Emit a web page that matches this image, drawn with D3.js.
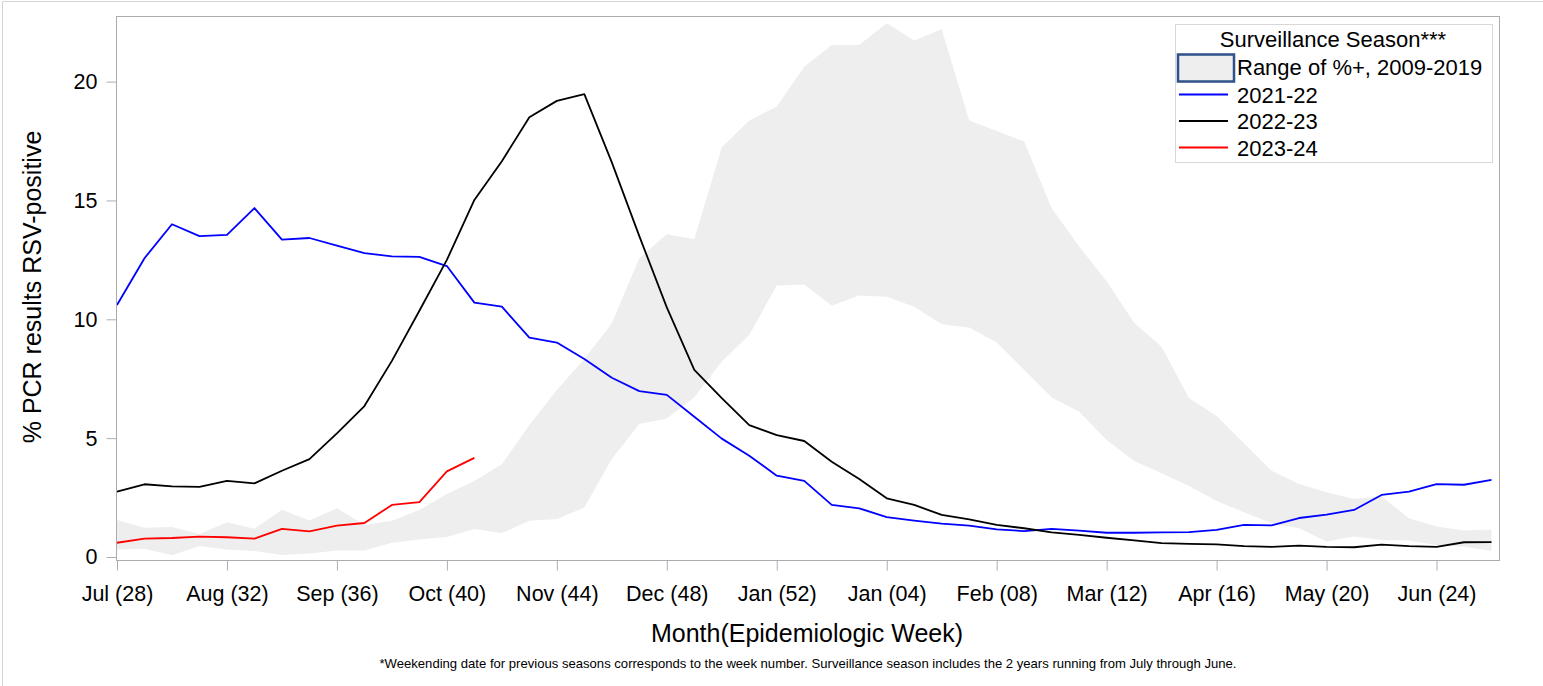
<!DOCTYPE html>
<html>
<head>
<meta charset="utf-8">
<script src="https://cdn.jsdelivr.net/npm/d3@7"></script>
<style>
  body { margin: 0; background: #fff; }
  text { font-family: "Liberation Sans", Arial, sans-serif; fill: #000; }
</style>
</head>
<body>
<div class="chart"></div>
<script>
// week index 0 = Jul (28) ... 50 = last week shown
var tickWeeks = [0, 4, 8, 12, 16, 20, 24, 28, 32, 36, 40, 44, 48];
var tickLabels = ["Jul (28)", "Aug (32)", "Sep (36)", "Oct (40)", "Nov (44)", "Dec (48)",
  "Jan (52)", "Jan (04)", "Feb (08)", "Mar (12)", "Apr (16)", "May (20)", "Jun (24)"];
var yTicks = [0, 5, 10, 15, 20];

// % positive, 2021-22 season
var season2122 = [10.6, 12.57, 14.0, 13.5, 13.55, 14.68, 13.35, 13.42, 13.1, 12.78,
  12.65, 12.63, 12.24, 10.7, 10.53, 9.23, 9.02, 8.33, 7.54, 6.98,
  6.82, 5.9, 4.98, 4.26, 3.42, 3.2, 2.19, 2.05, 1.68, 1.53,
  1.4, 1.32, 1.16, 1.09, 1.18, 1.11, 1.02, 1.02, 1.04, 1.05,
  1.14, 1.35, 1.33, 1.64, 1.78, 1.98, 2.61, 2.75, 3.07, 3.04, 3.24];

// 2022-23 season
var season2223 = [2.75, 3.06, 2.97, 2.95, 3.2, 3.1, 3.63, 4.12, 5.2, 6.35,
  8.25, 10.36, 12.5, 15.02, 16.65, 18.5, 19.19, 19.47, 16.6, 13.5,
  10.5, 7.87, 6.68, 5.55, 5.13, 4.88, 4.01, 3.28, 2.47, 2.19,
  1.77, 1.58, 1.35, 1.21, 1.04, 0.93, 0.81, 0.7, 0.58, 0.55,
  0.53, 0.46, 0.43, 0.48, 0.43, 0.41, 0.52, 0.46, 0.43, 0.62, 0.63];

// 2023-24 season (so far)
var season2324 = [0.6, 0.77, 0.8, 0.86, 0.83, 0.77, 1.18, 1.08, 1.32, 1.43,
  2.19, 2.31, 3.6, 4.17];

// range of % positive 2009-2019
var rangeHigh = [1.56, 1.23, 1.26, 0.97, 1.46, 1.19, 1.99, 1.54, 2.05, 1.35,
  1.53, 1.98, 2.65, 3.2, 3.9, 5.55, 7.03, 8.33, 9.83, 12.57,
  13.58, 13.37, 17.24, 18.36, 18.95, 20.63, 21.54, 21.54, 22.45, 21.73,
  22.2, 18.36, 17.92, 17.48, 14.67, 13.06, 11.6, 9.86, 8.85, 6.68,
  5.93, 4.78, 3.63, 3.07, 2.72, 2.44, 2.54, 1.63, 1.28, 1.11, 1.16];
var rangeLow = [0.32, 0.35, 0.07, 0.46, 0.32, 0.25, 0.08, 0.15, 0.27, 0.27,
  0.6, 0.74, 0.84, 1.18, 1.0, 1.53, 1.6, 2.08, 4.12, 5.6,
  5.83, 6.72, 8.22, 9.34, 11.42, 11.46, 10.57, 11.0, 10.95, 10.53,
  9.79, 9.66, 9.02, 7.87, 6.72, 6.11, 4.92, 4.04, 3.52, 2.99,
  2.36, 1.88, 1.42, 1.21, 0.65, 0.86, 0.72, 0.69, 0.5, 0.43, 0.25];

var svgWidth = 1543;
var svgHeight = 686;

var plot = { left: 116, right: 1499, top: 16, bottom: 560 };

var svg = d3.select(".chart")
  .append("svg")
  .attr("width", svgWidth)
  .attr("height", svgHeight);

// outer border of the picture (top and left only)
svg.append("path")
  .attr("d", `M2.5,${svgHeight} V1.5 H${svgWidth}`)
  .attr("fill", "none")
  .attr("stroke", "#d4d4d4");

var x = d3.scaleLinear().domain([0, 50]).range([117, 1491.5]);
var y = d3.scaleLinear().domain([0, 20]).range([557, 81.6]);

// band
var band = rangeHigh.map(function(v, i) { return { i: i, hi: v, lo: rangeLow[i] }; });
var area = d3.area()
  .x(d => x(d.i))
  .y0(d => y(d.lo))
  .y1(d => y(d.hi));

svg.append("path")
  .datum(band)
  .attr("d", area)
  .attr("fill", "#eeeeee");

var line = d3.line()
  .x((d, i) => x(i))
  .y(d => y(d));

var series = [
  { name: "2021-22", values: season2122, color: "#0000ff" },
  { name: "2022-23", values: season2223, color: "#000000" },
  { name: "2023-24", values: season2324, color: "#ff0000" }
];

series.forEach(function(s) {
  svg.append("path")
    .datum(s.values)
    .attr("d", line)
    .attr("fill", "none")
    .attr("stroke", s.color)
    .attr("stroke-width", 1.8)
    .attr("stroke-linejoin", "round");
});

// frame
svg.append("rect")
  .attr("x", plot.left + 0.5).attr("y", plot.top + 0.5)
  .attr("width", plot.right - plot.left).attr("height", plot.bottom - plot.top)
  .attr("fill", "none")
  .attr("stroke", "#a9adb2");

// x axis
var xAxis = d3.axisBottom(x)
  .tickValues(tickWeeks)
  .tickFormat((d, i) => tickLabels[i])
  .tickSize(10)
  .tickSizeOuter(0);

var gx = svg.append("g")
  .attr("transform", `translate(0, ${plot.bottom + 0.5})`)
  .call(xAxis);
gx.select(".domain").remove();
gx.selectAll("line").attr("stroke", "#a9adb2");
gx.selectAll("text")
  .attr("y", 40).attr("dy", 0)
  .style("font-size", "21.5px")
  .style("font-family", "'Liberation Sans', Arial, sans-serif")
  .attr("fill", "#000");

// y axis
var yAxis = d3.axisLeft(y)
  .tickValues(yTicks)
  .tickSize(10)
  .tickPadding(9)
  .tickSizeOuter(0);

var gy = svg.append("g")
  .attr("transform", `translate(${plot.left + 0.5}, 0)`)
  .call(yAxis);
gy.select(".domain").remove();
gy.selectAll("line").attr("stroke", "#a9adb2");
gy.selectAll("text")
  .style("font-size", "21.5px")
  .style("font-family", "'Liberation Sans', Arial, sans-serif")
  .attr("fill", "#000");

// axis titles
svg.append("text")
  .attr("transform", "translate(41, 287) rotate(-90)")
  .attr("text-anchor", "middle")
  .style("font-size", "25px")
  .text("% PCR results RSV-positive");

svg.append("text")
  .attr("x", 807).attr("y", 642)
  .attr("text-anchor", "middle")
  .style("font-size", "25px")
  .text("Month(Epidemiologic Week)");

svg.append("text")
  .attr("x", 808).attr("y", 668)
  .attr("text-anchor", "middle")
  .attr("textLength", 857)
  .attr("lengthAdjust", "spacingAndGlyphs")
  .style("font-size", "13px")
  .text("*Weekending date for previous seasons corresponds to the week number. Surveillance season includes the 2 years running from July through June.");

// legend
var legend = svg.append("g");
legend.append("rect")
  .attr("x", 1175.5).attr("y", 24.5)
  .attr("width", 317).attr("height", 138)
  .attr("fill", "#fff")
  .attr("stroke", "#d8d8d8");

legend.append("text")
  .attr("x", 1333).attr("y", 47)
  .attr("text-anchor", "middle")
  .style("font-size", "22px")
  .text("Surveillance Season***");

legend.append("rect")
  .attr("x", 1178).attr("y", 54.5)
  .attr("width", 56).attr("height", 27)
  .attr("fill", "#eeeeee")
  .attr("stroke", "#2f5089")
  .attr("stroke-width", 2.5);

legend.append("text")
  .attr("x", 1237).attr("y", 75)
  .style("font-size", "22px")
  .text("Range of %+, 2009-2019");

series.forEach(function(s, i) {
  var ly = 94.5 + i * 26.5;
  legend.append("line")
    .attr("x1", 1179).attr("x2", 1228)
    .attr("y1", ly).attr("y2", ly)
    .attr("stroke", s.color)
    .attr("stroke-width", 1.8);
  legend.append("text")
    .attr("x", 1237).attr("y", ly + 8)
    .style("font-size", "22px")
    .text(s.name);
});
</script>
</body>
</html>
